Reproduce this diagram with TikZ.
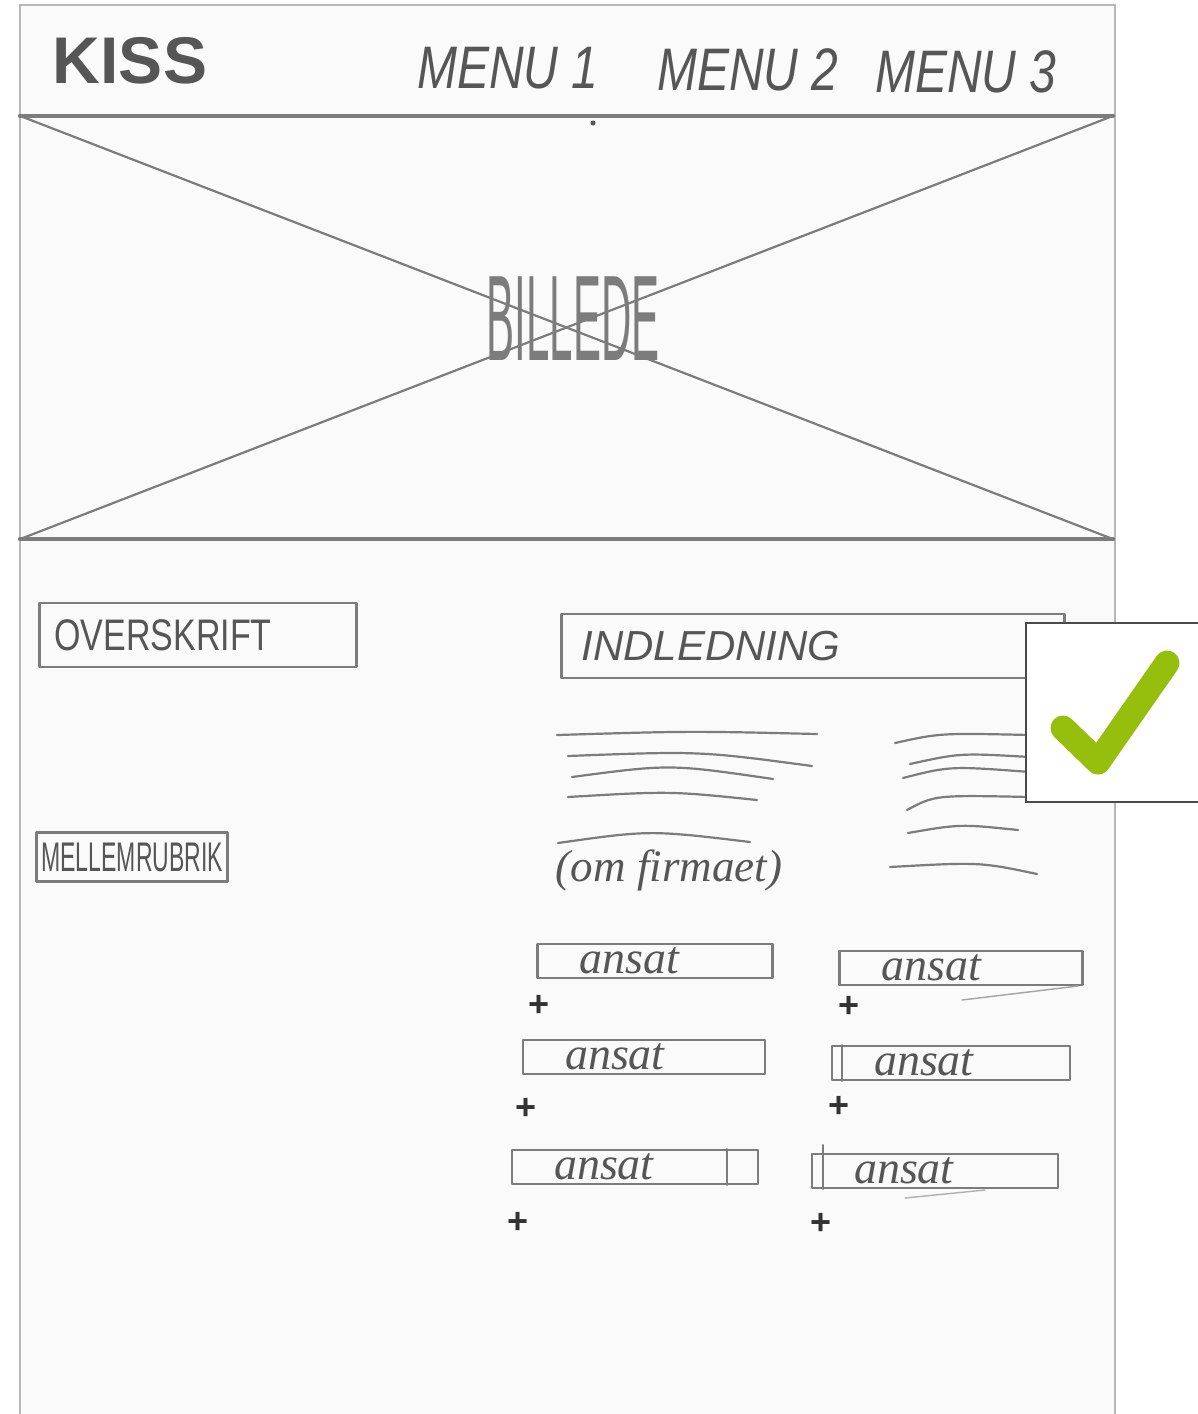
\documentclass[tikz,border=0pt]{standalone}
\usepackage{fontspec}
\setmainfont{Liberation Serif}
\setsansfont{Liberation Sans}
\usepackage{graphicx}
\usepackage{xcolor}
\usepackage{tikz}
\usetikzlibrary{positioning,calc}
\definecolor{Pencil}{HTML}{7C7C7C}
\definecolor{Graphite}{HTML}{565656}
\definecolor{PaperWhite}{HTML}{FAFAFA}
\definecolor{PaperEdge}{HTML}{B8B8B8}
\definecolor{FrameInk}{HTML}{4A4A4A}
\definecolor{CheckGreen}{HTML}{96BF0D}

\begin{document}
\begin{tikzpicture}[x=1pt,y=-1pt]
  \path[use as bounding box] (0,0) rectangle (1198,1414);

  \tikzset{
    wfPencil/.style={
      draw=Pencil,
      line width=2.2pt,
      line cap=round,
      line join=round
    },
    wfRule/.style={
      draw=Pencil,
      line width=4pt,
      line cap=round
    },
    wfHand/.style={
      text=Graphite,
      inner sep=0pt
    },
    wfLogo/.style={
      wfHand,
      font=\sffamily\bfseries\fontsize{66}{66}\selectfont
    },
    wfMenu/.style={
      wfHand,
      font=\sffamily\itshape\fontsize{48}{48}\selectfont
    },
    wfBox/.style={
      wfPencil,
      rectangle,
      inner ysep=0pt,
      align=left,
      text=Graphite
    },
    wfAnsat/.style={
      wfBox,
      minimum height=34pt,
      inner xsep=42pt,
      text width=#1,
      font=\itshape\fontsize{46}{46}\selectfont
    },
    wfPlus/.style={
      wfHand,
      text=black!80,
      font=\sffamily\bfseries\fontsize{36}{36}\selectfont
    },
    wfCheckBox/.style={
      draw=FrameInk,
      line width=2.5pt,
      fill=white,
      minimum width=175pt,
      minimum height=179pt
    },
    wfCheck/.style={
      draw=CheckGreen,
      line width=25pt,
      line cap=round,
      line join=round
    }
  }

  % papirarket
  \path[fill=PaperWhite] (20,5) rectangle (1115,1414);
  \draw[PaperEdge,line width=1.2pt] (20,1414) -- (20,5) -- (1115,5) -- (1115,1414);

  % top: logo og menu
  \node[wfLogo] (kiss)  at (130,61) {KISS};
  \node[wfMenu] (menu1) at (508,68) {\scalebox{1}[1.25]{MENU 1}};
  \node[wfMenu] (menu2) at (748,70) {\scalebox{1}[1.25]{MENU 2}};
  \node[wfMenu] (menu3) at (966,72) {\scalebox{1}[1.25]{MENU 3}};

  % billedfelt med kryds
  \node[minimum width=1093pt,minimum height=423pt,inner sep=0pt] (img) at (566.5,327.5) {};
  \draw[wfRule] (img.north west) -- (img.north east);
  \draw[wfRule] (img.south west) -- (img.south east);
  \draw[wfPencil] (img.north west) -- (img.south east);
  \draw[wfPencil] (img.south west) -- (img.north east);
  \fill[Graphite] (593,123) circle (2.5pt);
  \node[wfHand,text=Pencil,font=\sffamily\fontsize{42}{42}\selectfont] (billede) at (573,319)
    {\scalebox{1}[2.9]{BILLEDE}};

  % venstre kolonne
  \node[wfBox,minimum height=64pt,inner xsep=15pt,text width=287pt,
    font=\sffamily\fontsize{34}{34}\selectfont] (overskrift) at (198,635)
    {\scalebox{1}[1.3]{OVERSKRIFT}};
  \node[wfBox,minimum height=49pt,inner xsep=5pt,text width=181pt,
    font=\sffamily\fontsize{23}{23}\selectfont] (mellem) at (132,857)
    {\scalebox{1}[1.8]{MELLEMRUBRIK}};

  % indledning og tekstlinjer
  \node[wfBox,minimum height=64pt,inner xsep=20pt,text width=463pt,
    font=\sffamily\itshape\fontsize{42}{42}\selectfont] (indledning) at (813,646)
    {INDLEDNING};

  \draw[wfPencil] (557,735) .. controls (690,731) .. (817,734);
  \draw[wfPencil] (568,756) .. controls (700,751) .. (812,766);
  \draw[wfPencil] (572,777) .. controls (670,764) .. (773,779);
  \draw[wfPencil] (568,797) .. controls (670,791) .. (757,800);
  \draw[wfPencil] (558,843) .. controls (650,830) .. (750,842);

  \draw[wfPencil] (895,743) .. controls (940,733) .. (1030,735);
  \draw[wfPencil] (910,764) .. controls (960,753) .. (1030,757);
  \draw[wfPencil] (903,778) .. controls (950,766) .. (1030,772);
  \draw[wfPencil] (907,810) .. controls (935,795) .. (1030,797);
  \draw[wfPencil] (908,833) .. controls (960,824) .. (1018,830);
  \draw[wfPencil] (890,867) .. controls (980,862) .. (1037,874);

  \node[wfHand,font=\itshape\fontsize{45}{45}\selectfont] (firma) at (669,870)
    {(om firmaet)};

  % ansatte
  \node[wfAnsat=151pt] (ansat1) at (655,961)  {ansat};
  \node[wfAnsat=159pt] (ansat2) at (961,968)  {ansat};
  \node[wfAnsat=158pt] (ansat3) at (644,1057) {ansat};
  \node[wfAnsat=154pt] (ansat4) at (951,1063) {ansat};
  \node[wfAnsat=162pt] (ansat5) at (635,1167) {ansat};
  \node[wfAnsat=162pt] (ansat6) at (935,1171) {ansat};

  \draw[wfPencil,line width=1.4pt] ($(ansat4.north west)+(11,0)$) -- ($(ansat4.south west)+(11,0)$);
  \draw[wfPencil,line width=1.4pt] ($(ansat6.north west)+(12,-8)$) -- ($(ansat6.south west)+(12,0)$);
  \draw[wfPencil,line width=1.4pt] ($(ansat5.north east)+(-32,0)$) -- ($(ansat5.south east)+(-32,0)$);
  \draw[wfPencil,line width=1.4pt,draw=Pencil!70] (962,1000) -- (1078,986);
  \draw[wfPencil,line width=1.4pt,draw=Pencil!60] (905,1198) -- (985,1190);

  \node[wfPlus,below=16pt of ansat1.south west,xshift=3pt]  (plus1) {+};
  \node[wfPlus,below=10pt of ansat2.south west,xshift=11pt] (plus2) {+};
  \node[wfPlus,below=23pt of ansat3.south west,xshift=4pt]  (plus3) {+};
  \node[wfPlus,below=15pt of ansat4.south west,xshift=8pt]  (plus4) {+};
  \node[wfPlus,below=27pt of ansat5.south west,xshift=7pt]  (plus5) {+};
  \node[wfPlus,below=24pt of ansat6.south west,xshift=10pt] (plus6) {+};

  % godkendt-mærke
  \node[wfCheckBox] (chk) at (1113.5,712.5) {};
  \draw[wfCheck] (1063,728) -- (1098,762) -- (1167,663);
\end{tikzpicture}
\end{document}
